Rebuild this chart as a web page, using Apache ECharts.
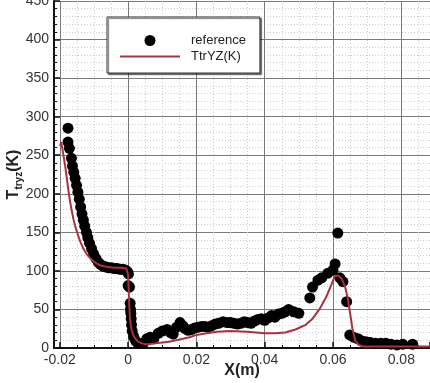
<!DOCTYPE html>
<html>
<head>
<meta charset="utf-8">
<script src="https://cdn.jsdelivr.net/npm/echarts@6/dist/echarts.min.js"></script>
<style>
html,body{margin:0;padding:0;background:#fff;}
#c{width:430px;height:383px;}
</style>
</head>
<body>
<div id="c"></div>
<script>
// Reference (black dots): [x (m), T (K)]
var referenceData = [
[-0.0176,285],[-0.0176,267],[-0.0172,259],[-0.0166,246],[-0.0163,236],[-0.0159,228],
[-0.0155,220],[-0.0151,211],[-0.0147,202],[-0.0143,193],[-0.0139,183],[-0.0135,174],
[-0.0131,166],[-0.0127,158],[-0.0122,150],[-0.0118,143],[-0.0113,136],[-0.0107,129],
[-0.0101,122],[-0.0094,116],[-0.0087,111],[-0.0080,108],[-0.0072,106],[-0.0064,105],
[-0.0056,104],[-0.0048,104],[-0.0040,103],[-0.0032,103],[-0.0024,102],[-0.0016,102],
[-0.0008,101],[-0.0002,99],[0.0001,96],[0.0000,81],[0.0004,79],[0.0006,58],
[0.0007,50],[0.0008,45],[0.0009,38],[0.0010,30],[0.0012,22],[0.0016,15],
[0.0021,10],[0.0027,7],[0.0034,6],[0.0045,6],[0.0055,12],[0.0065,14],
[0.0075,12],[0.0088,19],[0.0100,22],[0.0114,24],[0.0124,20],[0.0132,18],
[0.0142,27],[0.0152,33],[0.0160,29],[0.0167,25],[0.0176,23],[0.0185,24],
[0.0195,26],[0.0205,27],[0.0215,28],[0.0225,28],[0.0235,27],[0.0245,29],
[0.0255,31],[0.0265,32],[0.0278,34],[0.0290,33],[0.0300,33],[0.0310,32],
[0.0320,31],[0.0330,32],[0.0340,34],[0.0350,33],[0.0360,32],[0.0370,35],
[0.0380,37],[0.0390,38],[0.0400,36],[0.0410,39],[0.0420,42],[0.0430,40],
[0.0440,44],[0.0450,45],[0.0460,47],[0.0470,50],[0.0485,47],[0.0500,45],
[0.0532,65],[0.0540,79],[0.0556,88],[0.0567,91],[0.0585,97],[0.0600,101],
[0.0606,109],[0.0614,149],[0.0620,91],[0.0629,86],[0.0640,60],[0.0649,17],
[0.0660,14],[0.0673,12],[0.0685,9],[0.0697,8],[0.0710,7],[0.0725,6],
[0.0740,6],[0.0755,6],[0.0770,5],[0.0787,4],[0.0804,5],[0.0833,5]
];
// Simulation (red line): [x (m), TtrYZ (K)]
var simX = [-0.0199,-0.0196,-0.0190,-0.0185,-0.0180,-0.0175,-0.0170,-0.0165,-0.0160,-0.0155,
-0.0150,-0.0145,-0.0140,-0.0130,-0.0120,-0.0110,-0.0100,-0.0090,-0.0080,-0.0060,
-0.0040,-0.0020,-0.0005,0.0000,0.0003,0.0006,0.0010,0.0015,0.0020,0.0030,
0.0040,0.0050,0.0060,0.0080,0.0100,0.0120,0.0150,0.0180,0.0200,0.0230,
0.0260,0.0300,0.0350,0.0400,0.0430,0.0460,0.0490,0.0520,0.0540,0.0560,
0.0580,0.0595,0.0605,0.0615,0.0625,0.0635,0.0643,0.0650,0.0657,0.0665,
0.0675,0.0690,0.0720,0.0800,0.0884];
var simT = [262,267,252,238,222,205,190,178,167,158,
151,144,138,128,121,116,112,109,107,105,
104,104,103,95,60,35,24,17,13,8,
6,5,5,6,7,8,11,14,17,19,
21,22,21,19,19,20,24,30,38,50,
66,82,93,94,90,80,65,45,25,10,
4,2,2,2,2];
var seriesNames = ['reference','TtrYZ(K)'];
var xTicks = {min:-0.0217, max:0.0884, step:0.02};
var yTicks = {min:0, max:450, step:50};

var simData = simX.map(function(x,i){return [x, simT[i]];});

var chart = echarts.init(document.getElementById('c'), null, {renderer:'canvas'});
var font = 'Liberation Sans, Arial, Helvetica, sans-serif';
chart.setOption({
  animation:false,
  backgroundColor:'#fff',
  grid:{left:54, right:0, top:1, bottom:35, containLabel:false, outerBoundsMode:'none'},
  legend:{
    orient:'vertical', left:107, top:17,
    padding:[17,14,10,13],
    itemWidth:60, itemHeight:11, itemGap:3,
    backgroundColor:'#fff', borderColor:'#333', borderWidth:1,
    shadowColor:'rgba(0,0,0,0.55)', shadowOffsetX:1.5, shadowOffsetY:1.5, shadowBlur:1,
    textStyle:{fontFamily:font, fontSize:13, color:'#222', padding:[0,0,0,6]},
    data:[
      {name:seriesNames[0], icon:'circle'},
      {name:seriesNames[1], icon:'path://M0,0 L60,0 L60,2 L0,2 Z'}
    ]
  },
  xAxis:{
    type:'value', min:xTicks.min, max:xTicks.max,
    minInterval:xTicks.step, maxInterval:xTicks.step,
    name:'X(m)', nameLocation:'middle', nameGap:15, nameMoveOverlap:false,
    nameTextStyle:{fontFamily:font, fontSize:16, fontWeight:'bold', color:'#222'},
    axisLine:{show:true, onZero:false, lineStyle:{color:'#111', width:2}},
    axisTick:{show:true, inside:true, length:6, lineStyle:{color:'#111', width:1.5}},
    minorTick:{show:true, splitNumber:4, length:3, lineStyle:{color:'#111'}},
    axisLabel:{fontFamily:font, fontSize:14, color:'#333', margin:5, showMinLabel:false, showMaxLabel:false},
    splitLine:{show:true, lineStyle:{color:'#7a7a7a', width:1}},
    minorSplitLine:{show:true, lineStyle:{color:'#cdcdcd', width:1, type:[1,2]}}
  },
  yAxis:{
    type:'value', min:yTicks.min, max:yTicks.max, interval:yTicks.step,
    name:'{a|T}{b|tryz}{a|(K)}', nameLocation:'middle', nameGap:30, nameMoveOverlap:false,
    nameTextStyle:{rich:{
      a:{fontFamily:font, fontSize:16, fontWeight:'bold', color:'#222', lineHeight:20},
      b:{fontFamily:font, fontSize:10, fontWeight:'bold', color:'#222', lineHeight:20, verticalAlign:'bottom', padding:[6,0,0,0]}
    }},
    axisLine:{show:true, onZero:false, lineStyle:{color:'#111', width:2}},
    axisTick:{show:true, inside:true, length:6, lineStyle:{color:'#111', width:1.5}},
    minorTick:{show:true, splitNumber:5, length:3, lineStyle:{color:'#111'}},
    axisLabel:{fontFamily:font, fontSize:14, color:'#333', margin:5},
    splitLine:{show:true, lineStyle:{color:'#7a7a7a', width:1}},
    minorSplitLine:{show:true, lineStyle:{color:'#cdcdcd', width:1, type:[1,2]}}
  },
  series:[
    {name:seriesNames[0], type:'scatter', data:referenceData, symbol:'circle', symbolSize:11,
     itemStyle:{color:'#000', opacity:1}, z:3},
    {name:seriesNames[1], type:'line', data:simData, symbol:'none', smooth:false,
     lineStyle:{color:'#a8323e', width:2}, itemStyle:{color:'#a8323e'}, z:4}
  ]
});
</script>
</body>
</html>
